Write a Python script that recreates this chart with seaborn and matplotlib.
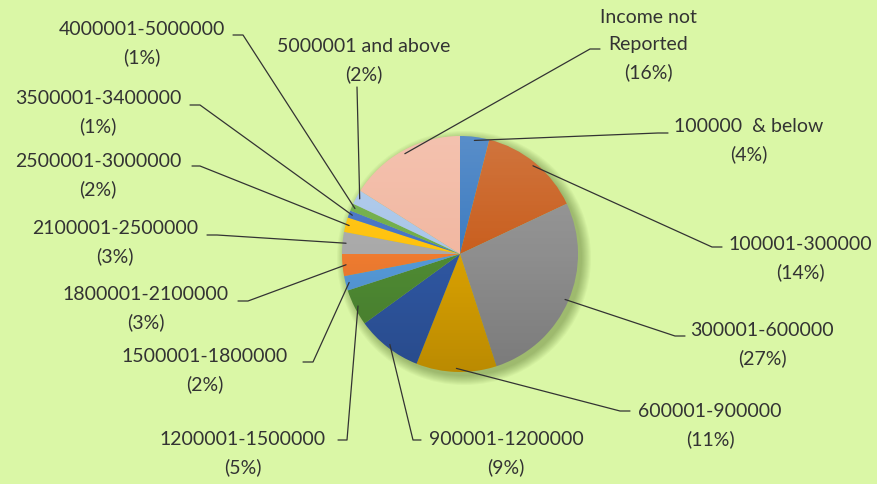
import numpy as np
import matplotlib
matplotlib.use("Agg")
import matplotlib.pyplot as plt
import seaborn as sns
from matplotlib.patches import Circle

# Data
labels = ["100000  & below", "100001-300000", "300001-600000", "600001-900000",
          "900001-1200000", "1200001-1500000", "1500001-1800000", "1800001-2100000",
          "2100001-2500000", "2500001-3000000", "3500001-3400000", "4000001-5000000",
          "5000001 and above", "Income not\nReported"]
shares = [4, 14, 27, 11, 9, 5, 2, 3, 3, 2, 1, 1, 2, 16]
colors = ["#3e7cc1", "#c95f1f", "#8e8e8e", "#d9a102", "#2f57a2", "#4f8b33", "#5599d8",
          "#ee7b30", "#a9a9a9", "#ffc20c", "#4472c4", "#6fad47", "#a9c6e9", "#f2b8a2"]

# label layout in pixels: text centre (x, y), elbow (x, y), tick end x
text_pos = [(749, 141), (800, 259), (762, 345), (710, 426), (506, 454), (243, 454),
            (205, 371), (146, 309), (115, 243), (98, 176), (98, 113), (142, 44),
            (364, 61), (648, 45)]
elbows = [(658, 134, 668), (712, 248, 722), (675, 337, 685), (620, 412, 630),
          (413, 441, 421), (347, 441, 338), (313, 363, 303), (248, 302, 238),
          (217, 236, 207), (200, 167, 192), (200, 106, 190), (243, 36, 233),
          (357, 88, 357), (590, 50, 600)]

W, H = 877, 485
bg = "#daf7a6"

sns.set_style("white")
plt.rcParams["font.family"] = ["Lato", "DejaVu Sans"]

fig = plt.figure(figsize=(W / 100, H / 100), dpi=100, facecolor=bg)
ax = fig.add_axes([0, 0, 1, 1])
ax.set_facecolor(bg)

cx, cy, r = 460, H - 255, 118

# soft shadow
for k in range(10):
    ax.add_patch(Circle((cx + 4, cy - 4), r + 9 - k, color="#2f4a0a", alpha=0.04, lw=0, zorder=1))

wedges, _ = ax.pie(shares, colors=colors, startangle=90, counterclock=False,
                   center=(cx, cy), radius=r, frame=True,
                   wedgeprops=dict(linewidth=0, zorder=2))
ax.set_xlim(0, W)
ax.set_ylim(0, H)
ax.set_aspect("equal")
ax.axis("off")

# glossy vertical gradient over the pie
n = 200
grad = np.zeros((n, 1, 4))
t = np.linspace(0, 1, n)
grad[:, 0, :3] = np.where(t[:, None] < 0.5, 1.0, 0.0)
grad[:, 0, 3] = np.abs(t - 0.5) * 0.28
img = ax.imshow(grad, extent=(cx - r, cx + r, cy - r, cy + r), aspect="auto",
                origin="upper", zorder=3, interpolation="bilinear")
img.set_clip_path(Circle((cx, cy), r, transform=ax.transData))

txt_col = "#333333"
for w, lab, v, (tx, ty), (ex, ey, tk) in zip(wedges, labels, shares, text_pos, elbows):
    ang = np.deg2rad((w.theta1 + w.theta2) / 2)
    ax_pt = (cx + 0.97 * r * np.cos(ang), cy + 0.97 * r * np.sin(ang))
    ax.plot([ax_pt[0], ex, tk], [ax_pt[1], H - ey, H - ey], color="#333333", lw=0.9, zorder=4)
    ax.text(tx, H - ty, f"{lab}\n({v}%)", ha="center", va="center", fontsize=14,
            color=txt_col, linespacing=1.68, zorder=5)

fig.savefig("out.png", dpi=100, facecolor=bg)
